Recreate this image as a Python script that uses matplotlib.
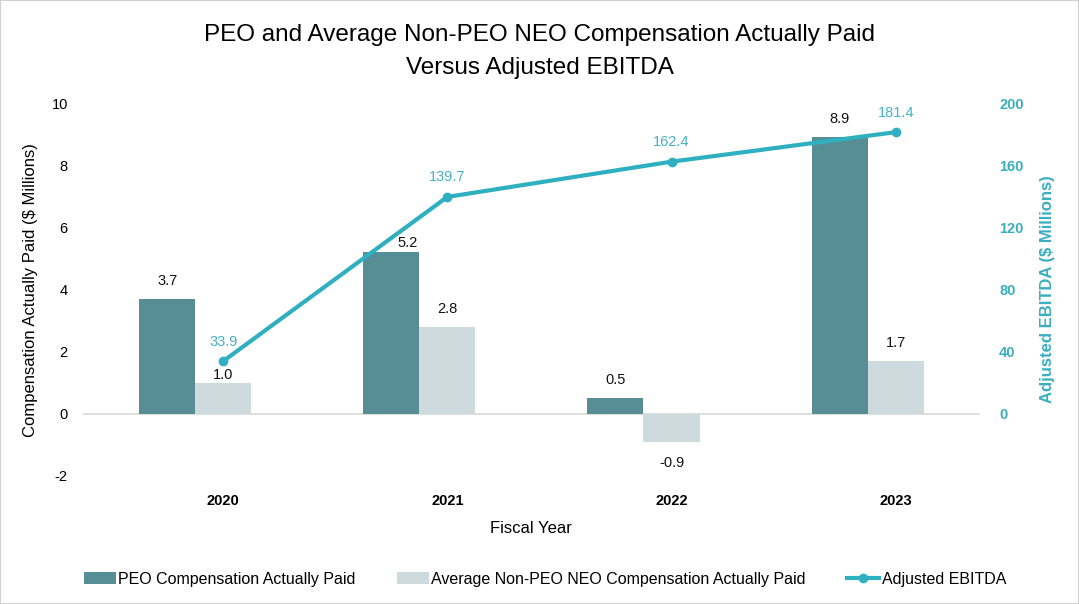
import matplotlib.pyplot as plt
import numpy as np

plt.rcParams['font.family'] = ['Liberation Sans', 'DejaVu Sans']
plt.rcParams['axes.unicode_minus'] = False

years = ['2020', '2021', '2022', '2023']
peo = [3.7, 5.2, 0.5, 8.9]
non_peo = [1.0, 2.8, -0.9, 1.7]
ebitda = [33.9, 139.7, 162.4, 181.4]

c_peo = '#578E95'
c_non = '#CDDBDF'
c_line = '#2FB0C1'

fig = plt.figure(figsize=(10.79, 6.04), dpi=100)
ax = fig.add_axes([0.077, 0.212, 0.831, 0.617])
ax2 = ax.twinx()

x = np.arange(len(years))
w = 0.25
b1 = ax.bar(x - w / 2, peo, w, color=c_peo, label='PEO Compensation Actually Paid', zorder=2)
b2 = ax.bar(x + w / 2, non_peo, w, color=c_non, label='Average Non-PEO NEO Compensation Actually Paid', zorder=2)

# deslocamentos manuais das etiquetas (em pontos), como no original
ajuste = {(0, 1): (0, 0.5), (1, 0): (12, 1.5)}

for k, bars in enumerate((b1, b2)):
    for i, r in enumerate(bars):
        v = r.get_height()
        cx = r.get_x() + r.get_width() / 2
        if v >= 0:
            dx, dy = ajuste.get((i, k), (0, 8))
            ax.annotate(f'{v:.1f}', (cx, v), xytext=(dx, dy), textcoords='offset points',
                        ha='center', va='bottom', fontsize=10.5, color='#111111')
        else:
            ax.annotate(f'{v:.1f}', (cx, v), xytext=(0, -10), textcoords='offset points',
                        ha='center', va='top', fontsize=10.5, color='#111111')

ax.axhline(0, color='#D9D9D9', lw=1.2, zorder=1)
ax.set_xlim(-0.5, 3.5)
ax.set_ylim(-2, 10)
ax.set_yticks(range(-2, 11, 2))
ax.set_xticks(x + w / 2)
ax.set_xticklabels(years, fontweight='bold', fontsize=10.5)
ax.tick_params(axis='x', length=0, pad=13)
ax.tick_params(axis='y', length=0, labelsize=10.5, pad=11)
ax.set_xlabel('Fiscal Year', fontsize=12, labelpad=9)
ax.set_ylabel('Compensation Actually Paid ($ Millions)', fontsize=12, labelpad=10)

line, = ax2.plot(x + w / 2, ebitda, color=c_line, lw=3, marker='o', ms=6,
                 label='Adjusted EBITDA', zorder=3)
for xi, v in zip(x + w / 2, ebitda):
    ax2.annotate(f'{v:.1f}', (xi, v), xytext=(0, 9), textcoords='offset points',
                 ha='center', va='bottom', fontsize=10.5, color='#45B2C3')
ax2.set_ylim(-40, 200)
ax2.set_yticks(range(0, 201, 40))
ax2.tick_params(axis='y', length=0, labelsize=10.5, labelcolor='#3AAFC0', pad=14)
for t in ax2.get_yticklabels():
    t.set_fontweight('bold')
ax2.set_ylabel('Adjusted EBITDA ($ Millions)', fontsize=12, color='#3AAFC0',
               fontweight='bold', labelpad=12)

for a in (ax, ax2):
    for s in a.spines.values():
        s.set_visible(False)

fig.suptitle('PEO and Average Non-PEO NEO Compensation Actually Paid\nVersus Adjusted EBITDA',
             fontsize=17.5, y=0.961, linespacing=1.65)

fig.legend(handles=[b1, b2, line], loc='lower center', ncol=3, frameon=False,
           fontsize=11.5, bbox_to_anchor=(0.505, 0.005), columnspacing=2.6,
           handlelength=2.0, handletextpad=0.15)

# borda fina
fig.patches.append(plt.Rectangle((0, 0), 1, 1, transform=fig.transFigure,
                                 fill=False, edgecolor='#D0D0D0', lw=1.5))

fig.savefig('out.png', dpi=100)
